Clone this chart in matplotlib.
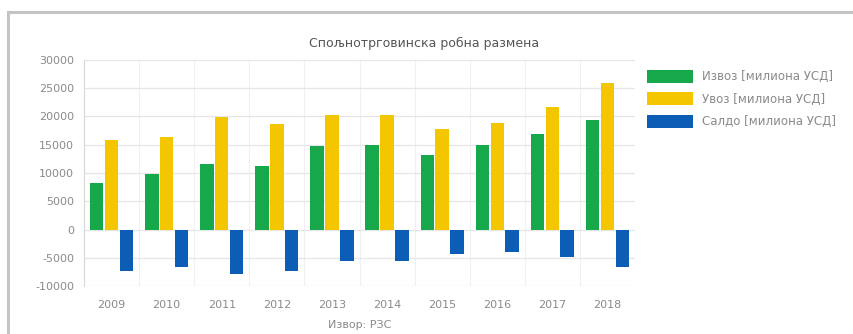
import matplotlib
matplotlib.use("Agg")
import matplotlib.pyplot as plt
from matplotlib.patches import Rectangle
import numpy as np

years = ["2009", "2010", "2011", "2012", "2013", "2014", "2015", "2016", "2017", "2018"]
export_vals = [8200, 9750, 11650, 11250, 14700, 14900, 13100, 14900, 16950, 19300]
import_vals = [15900, 16400, 19900, 18750, 20350, 20250, 17750, 18850, 21700, 25850]
balance_vals = [-7400, -6550, -7850, -7400, -5600, -5550, -4300, -4000, -4800, -6550]
series_names = ["Извоз [милиона УСД]", "Увоз [милиона УСД]", "Салдо [милиона УСД]"]
title = "Спољнотрговинска робна размена"
xlabel = "Извор: РЗС"
yticks = [-10000, -5000, 0, 5000, 10000, 15000, 20000, 25000, 30000]

colors = ["#16a84a", "#f4c600", "#0b5db5"]

W, H = 854, 334
fig = plt.figure(figsize=(W / 100, H / 100), dpi=100)
fig.patch.set_facecolor("white")

# card frame
fig.add_artist(Rectangle((8 / W, -0.1), 1.2, (1 - 12 / H) + 0.1, transform=fig.transFigure,
                         fill=False, edgecolor="#c4c4c4", linewidth=2.2))

ax = fig.add_axes([84 / W, 1 - 286 / H, (635 - 84) / W, (286 - 60) / H])
x = np.arange(len(years))
bw = 0.245
off = 0.27
ax.bar(x - off, export_vals, bw, color=colors[0], label=series_names[0], zorder=3)
ax.bar(x, import_vals, bw, color=colors[1], label=series_names[1], zorder=3)
ax.bar(x + off, balance_vals, bw, color=colors[2], label=series_names[2], zorder=3)

ax.set_xlim(-0.5, len(years) - 0.5)
ax.set_ylim(-10000, 30000)
ax.set_yticks(yticks)
ax.set_yticklabels([str(v) for v in yticks])
ax.set_xticks(x)
ax.set_xticklabels(years)
ax.set_xticks(np.arange(len(years) + 1) - 0.5, minor=True)
ax.grid(axis="y", which="major", color="#e6e6e6", linewidth=0.9, zorder=0)
ax.grid(axis="x", which="minor", color="#f0f0f0", linewidth=0.8, zorder=0)
ax.tick_params(axis="both", which="both", length=0, labelsize=8, colors="#8a8a8a", pad=7)
ax.tick_params(axis="x", pad=10)
for s in ["top", "right", "bottom"]:
    ax.spines[s].set_visible(False)
ax.spines["left"].set_color("#d8d8d8")
ax.set_xlabel(xlabel, fontsize=8, color="#8a8a8a", labelpad=7)

fig.text(424 / W, 1 - 43 / H, title, ha="center", va="center", fontsize=9, color="#555555")

handles, labels = ax.get_legend_handles_labels()
fig.legend(handles, labels, loc="upper left", bbox_to_anchor=(642 / W, 1 - 65 / H),
           frameon=False, fontsize=8.5, labelcolor="#8a8a8a", handlelength=3.9,
           handleheight=1.35, handletextpad=0.75, labelspacing=0.75, borderaxespad=0)

fig.savefig("out.png", dpi=100, facecolor="white")
